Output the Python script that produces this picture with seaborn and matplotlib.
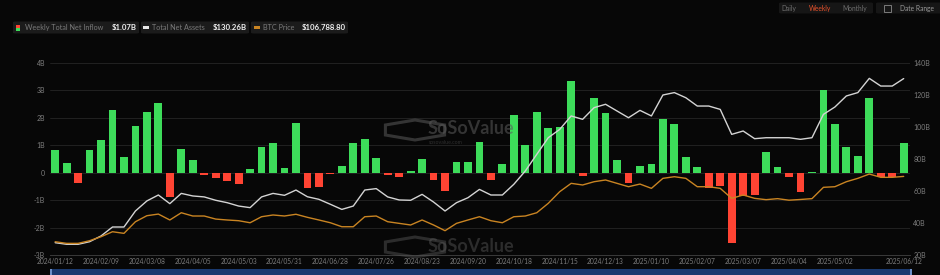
import numpy as np
import pandas as pd
import matplotlib
matplotlib.use("Agg")
import matplotlib.pyplot as plt
import seaborn as sns
from matplotlib.patches import FancyBboxPatch, Rectangle, RegularPolygon

# ---------------- data ----------------
week_index = list(range(75))
inflow_b = [0.82, 0.34, -0.39, 0.82, 1.19, 2.27, 0.58, 1.72, 2.23, 2.55,
            -0.87, 0.85, 0.48, -0.07, -0.19, -0.32, -0.41, 0.12, 0.95, 1.07,
            0.18, 1.82, -0.56, -0.53, -0.05, 0.24, 1.07, 1.24, 0.55, -0.07,
            -0.17, 0.06, 0.51, -0.27, -0.68, 0.39, 0.39, 1.12, -0.28, 0.32,
            2.12, 1.00, 2.20, 1.62, 1.67, 3.36, -0.12, 2.73, 2.16, 0.46,
            -0.36, 0.24, 0.33, 1.96, 1.76, 0.57, 0.22, -0.55, -0.48, -2.57,
            -0.85, -0.82, 0.75, 0.21, -0.16, -0.69, 0.02, 3.03, 1.79, 0.93,
            0.61, 2.73, -0.15, -0.15, 1.07]
net_assets_b = [27.7, 26.7, 26.7, 28.3, 31.9, 37.5, 37.5, 47.5, 53.8, 57.5,
                52.1, 58.5, 56.9, 56.3, 54.2, 52.7, 50.6, 49.6, 56.3, 58.5,
                57.3, 60.6, 56.4, 54.8, 51.7, 48.5, 50.6, 60.6, 61.5, 56.3,
                54.4, 54.2, 57.9, 53.1, 47.5, 52.7, 55.8, 61.0, 57.5, 57.5,
                64.2, 72.5, 82.9, 93.3, 98.5, 106.9, 104.8, 112.1, 114.2, 110.0,
                105.8, 110.4, 106.9, 120.0, 121.5, 118.3, 113.1, 113.1, 111.0, 95.4,
                97.5, 92.7, 93.3, 93.3, 93.3, 92.3, 93.3, 107.9, 112.5, 119.4,
                121.5, 130.4, 125.6, 125.6, 130.26]
btc_price_k = [42.8, 41.2, 41.2, 43.8, 47.7, 52.6, 51.0, 62.4, 68.3, 69.9,
               64.1, 71.2, 68.0, 68.0, 65.0, 64.1, 63.4, 61.4, 67.3, 69.0,
               68.0, 69.7, 66.7, 64.1, 61.4, 57.5, 57.5, 67.3, 68.0, 62.4,
               60.8, 59.2, 64.1, 59.2, 53.6, 60.8, 64.1, 67.3, 63.4, 61.4,
               67.3, 68.0, 71.2, 80.4, 91.8, 100.0, 98.4, 101.6, 103.3, 100.0,
               96.7, 99.3, 95.1, 104.9, 106.5, 104.9, 96.7, 96.7, 95.1, 85.3,
               88.6, 85.3, 84.0, 85.0, 83.5, 84.2, 85.0, 96.1, 96.7, 101.6,
               104.9, 109.1, 105.9, 105.9, 106.79]
x_tick_pos = [0, 4, 8, 12, 16, 20, 24, 28, 32, 36, 40, 44, 48, 52, 56, 60, 64, 68, 74]
x_tick_labels = ["2024/01/12", "2024/02/09", "2024/03/08", "2024/04/05", "2024/05/03",
                 "2024/05/31", "2024/06/28", "2024/07/26", "2024/08/23", "2024/09/20",
                 "2024/10/18", "2024/11/15", "2024/12/13", "2025/01/10", "2025/02/07",
                 "2025/03/07", "2025/04/04", "2025/05/02", "2025/06/12"]
left_ticks = [-3, -2, -1, 0, 1, 2, 3, 4]
left_tick_labels = ["-3B", "-2B", "-1B", "0", "1B", "2B", "3B", "4B"]
right_ticks = [20, 40, 60, 80, 100, 120, 140]
right_tick_labels = ["20B", "40B", "60B", "80B", "100B", "120B", "140B"]

# ---------------- style ----------------
BG = "#070707"
GREEN = "#3ddc5a"
RED = "#ff4433"
WHITE_LINE = "#d4d4d4"
ORANGE = "#c98422"
TICK = "#7d7d7d"
GRID = "#252525"
FONT = ["Lato", "DejaVu Sans"]

sns.set_theme(style="dark")
plt.rcParams["font.family"] = FONT

W, H = 940, 275
fig = plt.figure(figsize=(W / 100, H / 100), dpi=100, facecolor=BG)


def fx(x):
    return x / W


def fy(y):
    return 1 - y / H


ax_l, ax_r, ax_t, ax_b = 50, 910, 63, 255
ax = fig.add_axes([fx(ax_l), fy(ax_b), fx(ax_r - ax_l), (ax_b - ax_t) / H])
ax.set_facecolor(BG)

df = pd.DataFrame({"week": week_index, "inflow": inflow_b})
df["dir"] = np.where(df["inflow"] >= 0, "in", "out")
sns.barplot(data=df, x="week", y="inflow", hue="dir", palette={"in": GREEN, "out": RED},
            native_scale=True, dodge=False, width=0.68, saturation=1, legend=False,
            linewidth=0, ax=ax, zorder=2)

ax.set_xlim(-0.45, 74.55)
ax.set_ylim(-3, 4)
ax.set_yticks(left_ticks)
ax.set_yticklabels(left_tick_labels)
ax.set_xticks(x_tick_pos)
ax.set_xticklabels(x_tick_labels)
ax.set_xlabel("")
ax.set_ylabel("")
ax.grid(False)
ax.yaxis.grid(True, color=GRID, lw=0.6, zorder=0)
ax.set_axisbelow(True)
ax.tick_params(axis="y", length=0, pad=3.5, labelsize=5, labelcolor=TICK)
ax.tick_params(axis="x", length=0, pad=2.5, labelsize=4.8, labelcolor=TICK)
for side in ["top", "left", "right"]:
    ax.spines[side].set_visible(False)
ax.spines["bottom"].set_color("#3a3a3a")
ax.spines["bottom"].set_linewidth(0.7)

# right axis: total net assets
ax2 = ax.twinx()
sns.lineplot(x=week_index, y=net_assets_b, ax=ax2, color=WHITE_LINE, lw=1.0, zorder=3)
ax2.set_ylim(20, 140)
ax2.set_yticks(right_ticks)
ax2.set_yticklabels(right_tick_labels)
ax2.tick_params(axis="y", length=0, pad=2.5, labelsize=5, labelcolor=TICK)
ax2.grid(False)
for s in ax2.spines.values():
    s.set_visible(False)
ax2.set_ylabel("")

# hidden axis: BTC price
ax3 = ax.twinx()
sns.lineplot(x=week_index, y=btc_price_k, ax=ax3, color=ORANGE, lw=1.0, zorder=4)
ax3.set_ylim(29.8, 217.9)
ax3.set_yticks([])
ax3.grid(False)
for s in ax3.spines.values():
    s.set_visible(False)
ax3.set_ylabel("")
ax3.set_xlim(-0.45, 74.55)

# ---------------- header legend ----------------
def box(x0, y0, x1, y1, color="#1b1b1b"):
    p = FancyBboxPatch((fx(x0), fy(y1)), fx(x1 - x0), (y1 - y0) / H,
                       boxstyle="round,pad=0,rounding_size=0.003",
                       transform=fig.transFigure, facecolor=color, edgecolor="none")
    fig.patches.append(p)


ty = fy(27.5)
box(13, 21.5, 139, 33.5)
fig.patches.append(Rectangle((fx(16), fy(27.5)), fx(4), 3 / H, transform=fig.transFigure,
                             facecolor=RED, edgecolor="none"))
fig.patches.append(Rectangle((fx(16), fy(30.5)), fx(4), 3 / H, transform=fig.transFigure,
                             facecolor=GREEN, edgecolor="none"))
fig.text(fx(25), ty, "Weekly Total Net Inflow", color="#7a7a7a", fontsize=5.2, va="center", ha="left")
fig.text(fx(137), ty, "$1.07B", color="#f0f0f0", fontsize=5.6, fontweight="bold", va="center", ha="right")

box(141, 21.5, 249, 33.5)
fig.patches.append(Rectangle((fx(143), fy(28.5)), fx(5.5), 2 / H, transform=fig.transFigure,
                             facecolor="#e6e6e6", edgecolor="none"))
fig.text(fx(152), ty, "Total Net Assets", color="#7a7a7a", fontsize=5.2, va="center", ha="left")
fig.text(fx(247), ty, "$130.26B", color="#f0f0f0", fontsize=5.6, fontweight="bold", va="center", ha="right")

box(251, 21.5, 348, 33.5)
fig.patches.append(Rectangle((fx(254), fy(28.5)), fx(5.5), 2 / H, transform=fig.transFigure,
                             facecolor=ORANGE, edgecolor="none"))
fig.text(fx(263), ty, "BTC Price", color="#7a7a7a", fontsize=5.2, va="center", ha="left")
fig.text(fx(346), ty, "$106,788.80", color="#f0f0f0", fontsize=5.6, fontweight="bold", va="center", ha="right")

# top-right controls
box(779, 2.5, 873, 13.5, color="#161616")
fig.text(fx(789), fy(8), "Daily", color="#6e6e6e", fontsize=4.8, va="center", ha="center")
fig.text(fx(820.5), fy(8), "Weekly", color="#e8512b", fontsize=4.8, va="center", ha="center")
fig.text(fx(854.5), fy(8), "Monthly", color="#6e6e6e", fontsize=4.8, va="center", ha="center")
box(876, 2.5, 942, 13.5, color="#161616")
fig.patches.append(Rectangle((fx(884), fy(12)), fx(7), 7 / H, transform=fig.transFigure,
                             facecolor="none", edgecolor="#8a8a8a", lw=0.6))
fig.text(fx(917), fy(8), "Date Range", color="#9a9a9a", fontsize=4.8, va="center", ha="center")

# watermarks
for cy, a in [(130, 0.55), (247, 0.45)]:
    fig.patches.append(RegularPolygon((fx(415), fy(cy)), numVertices=6, radius=10 / H,
                                      orientation=0, transform=fig.transFigure,
                                      facecolor="none", edgecolor="#5a5a5a", lw=2.2, alpha=a))
    fig.text(fx(428), fy(cy - 1), "SoSoValue", color="#5a5a5a", alpha=a, fontsize=13,
             fontweight="bold", va="center", ha="left")
fig.text(fx(429), fy(143), "sosovalue.com", color="#4a4a4a", alpha=0.6, fontsize=3.8,
         va="center", ha="left")

# bottom navigator strip
fig.patches.append(Rectangle((fx(50), 0), fx(862), 6 / H, transform=fig.transFigure,
                             facecolor="#1a3a70", edgecolor="none"))
fig.patches.append(Rectangle((fx(50), 0), fx(2), 6 / H, transform=fig.transFigure,
                             facecolor="#6c8fc8", edgecolor="none"))
fig.patches.append(Rectangle((fx(910), 0), fx(2), 6 / H, transform=fig.transFigure,
                             facecolor="#6c8fc8", edgecolor="none"))

fig.savefig("out.png", dpi=100, facecolor=BG)
